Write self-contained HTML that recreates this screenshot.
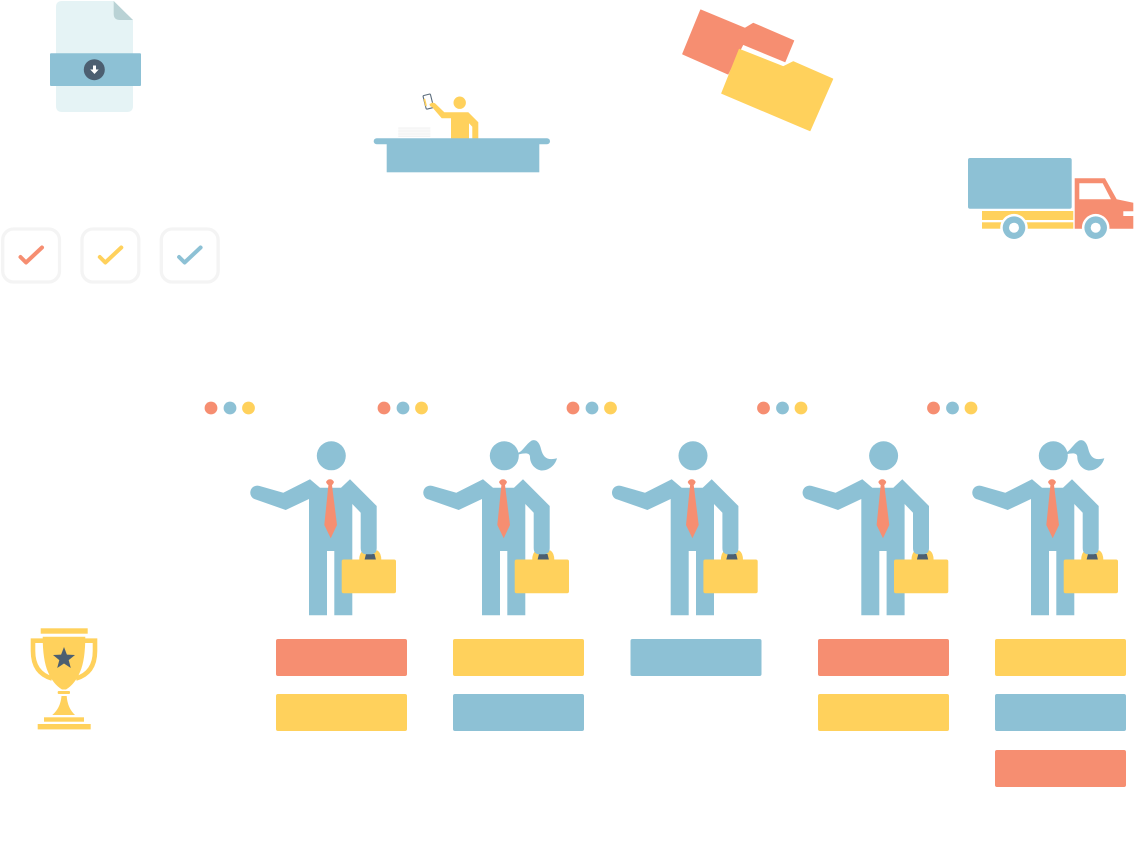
<!DOCTYPE html>
<html>
<head>
<meta charset="utf-8">
<title>Diagram</title>
<style>
html,body{margin:0;padding:0;background:#fff;width:1140px;height:856px;overflow:hidden}
svg{display:block}
</style>
</head>
<body>
<svg width="1140" height="856" viewBox="0 0 1140 856" xmlns="http://www.w3.org/2000/svg">
<defs>
  <g id="man">
    <circle cx="331.3" cy="455.8" r="14.5" fill="#8dc1d5"/>
    <path d="M359.2 560 Q359.2 553 363 550.5 H377.5 Q381.3 553 381.3 560 Z" fill="#ffd15c"/>
    <path d="M366 554 H374.5 L376 560 H364.5 Z" fill="#4c5f71"/>
    <path d="M310 479.3 L320 487.7 H341 L350 479.3 L376.7 506 V548 Q376.7 554.3 370.5 554.3 H366.5 Q360.7 554.3 360.7 548 V512.7 L352.3 504 V615.3 H334.3 V551 H327 V615.3 H309 V499 L285.7 510 L255.4 499.4 A7 7 0 0 1 259.2 485.9 L283.3 492.7 Z" fill="#8dc1d5"/>
    <path d="M330 479.3 Q332.5 479.3 334 482 Q333 484.5 332 485 L337 525 L330.7 538.3 L324.3 525 L328.4 485 Q327 484.5 326 482 Q327.5 479.3 330 479.3 Z" fill="#f68e71"/>
    <rect x="341.7" y="559.5" width="54.3" height="33.8" rx="2" fill="#ffd15c"/>
  </g>
  <path id="tail" d="M518.3 452.7 C523 451 526 444 531.7 440.5 C537 438.5 540 444 541 449 C543 457 547 461 557 458.3 C555 466 548 471 541 470.5 C534 469 530 463 530 457 C530 453 526 452.5 518.5 454.5 Z" fill="#8dc1d5"/>
  <g id="dots">
    <circle cx="211" cy="408" r="6.4" fill="#f68e71"/>
    <circle cx="230" cy="408" r="6.4" fill="#8dc1d5"/>
    <circle cx="248.5" cy="408" r="6.4" fill="#ffd15c"/>
  </g>
  <rect id="cb" x="2.7" y="229" width="56.8" height="53" rx="11" fill="#fff" stroke="#f4f4f4" stroke-width="3.3"/>
</defs>

<!-- document -->
<path d="M62 1 H113.7 L133 20 V106 Q133 112 127 112 H62 Q56 112 56 106 V7 Q56 1 62 1 Z" fill="#e5f3f5"/>
<path d="M113.7 1 L133 20 H120 Q113.7 20 113.7 14 Z" fill="#b9d2d5"/>
<rect x="50" y="53.3" width="91" height="32.7" rx="1" fill="#8dc1d5"/>
<circle cx="94.3" cy="69.7" r="10.5" fill="#4c5f71"/>
<path d="M93 65.5 H96 V69.5 H98.7 L94.5 74 L90.2 69.5 H93 Z" fill="#fff"/>

<!-- checkboxes -->
<use href="#cb"/>
<use href="#cb" x="79.3"/>
<use href="#cb" x="158.6"/>
<path d="M20.5 257 L26 262.5 L42 247.5" fill="none" stroke="#f68e71" stroke-width="4" stroke-linecap="round" stroke-linejoin="round"/>
<path d="M99.8 257 L105.3 262.5 L121.3 247.5" fill="none" stroke="#ffd15c" stroke-width="4" stroke-linecap="round" stroke-linejoin="round"/>
<path d="M179.1 257 L184.6 262.5 L200.6 247.5" fill="none" stroke="#8dc1d5" stroke-width="4" stroke-linecap="round" stroke-linejoin="round"/>

<!-- reception -->
<rect x="398.3" y="127.3" width="32" height="9.5" fill="#f9f9f9"/>
<g stroke="#f3f3f3" stroke-width="1">
  <line x1="398.3" y1="128" x2="430.3" y2="128"/>
  <line x1="398.3" y1="131" x2="430.3" y2="131"/>
  <line x1="398.3" y1="134" x2="430.3" y2="134"/>
  <line x1="398.3" y1="136.5" x2="430.3" y2="136.5"/>
</g>
<circle cx="459.7" cy="102.7" r="6.2" fill="#ffd15c"/>
<rect x="424.5" y="94.6" width="7.6" height="14" rx="1" transform="rotate(-14 428.3 101.6)" fill="#fff" stroke="#5b6c7c" stroke-width="1.1"/>
<path d="M444.3 112.3 H468.3 L478.3 122.3 V139 H472.3 V126.7 L469 123.3 V139 H451 V118.3 H441.7 L432 107 Q429.5 106.5 429.5 104 L432.5 102.5 L435 103.3 Z" fill="#ffd15c"/>
<path d="M424.5 99.5 L426 105.5" stroke="#ffd15c" stroke-width="1.6" stroke-linecap="round" fill="none"/>
<rect x="373.7" y="138.3" width="176.3" height="6" rx="3" fill="#8dc1d5"/>
<rect x="386.7" y="142" width="152.6" height="30.3" fill="#8dc1d5"/>

<!-- folders -->
<path d="M700.7 10 L745 28.3 L753.3 23.3 L793.7 40.7 L785 61.7 L743 44.3 L728 74 L682.7 54 Z" fill="#f68e71" stroke="#f68e71" stroke-width="1" stroke-linejoin="round"/>
<path d="M739.3 49.3 L783.3 66.7 L793.3 61.7 L832.7 79 L810 130.7 L721.7 93.3 Z" fill="#ffd15c" stroke="#ffd15c" stroke-width="1" stroke-linejoin="round"/>

<!-- truck -->
<rect x="968" y="158" width="103.7" height="50.7" rx="2" fill="#8dc1d5"/>
<rect x="982" y="211" width="91.3" height="9" fill="#ffd15c"/>
<rect x="982" y="222.3" width="91.3" height="6.4" fill="#ffd15c"/>
<path d="M1074.7 178.3 H1105 L1116.7 199.3 L1133.3 202.7 V211.3 H1123.3 V216 H1133.3 V228.7 H1074.7 Z" fill="#f68e71"/>
<path d="M1079.3 183.3 H1102.7 L1111 199.3 H1079.3 Z" fill="#fff"/>
<circle cx="1014" cy="227.7" r="13.8" fill="#fff"/>
<circle cx="1014" cy="227.7" r="11.3" fill="#8dc1d5"/>
<circle cx="1014" cy="227.7" r="5" fill="#fff"/>
<circle cx="1095.7" cy="227.7" r="13.8" fill="#fff"/>
<circle cx="1095.7" cy="227.7" r="11.3" fill="#8dc1d5"/>
<circle cx="1095.7" cy="227.7" r="5" fill="#fff"/>

<!-- dots -->
<use href="#dots"/>
<use href="#dots" x="173"/>
<use href="#dots" x="362"/>
<use href="#dots" x="552.5"/>
<use href="#dots" x="722.5"/>

<!-- people -->
<use href="#man"/>
<use href="#man" x="173"/>
<use href="#tail"/>
<use href="#man" x="361.7"/>
<use href="#man" x="552.3"/>
<use href="#man" x="722"/>
<use href="#tail" x="547.3"/>

<!-- trophy -->
<rect x="40.7" y="628.3" width="47" height="5.4" fill="#ffd15c"/>
<path d="M44 640.7 H33 V651 Q33 673 52 678.5" fill="none" stroke="#ffd15c" stroke-width="4.6"/>
<path d="M84 640.7 H95 V651 Q95 673 76 678.5" fill="none" stroke="#ffd15c" stroke-width="4.6"/>
<path d="M42.7 636.7 H85.3 Q85.3 660 80 672 Q75 684 66 689.5 H62 Q53 684 48 672 Q42.7 660 42.7 636.7 Z" fill="#ffd15c"/>
<rect x="57.7" y="691" width="12.3" height="3" rx="1" fill="#ffd15c"/>
<path d="M61.5 696 H66.7 Q67.5 708 75 715 H52.3 Q60.5 708 61.5 696 Z" fill="#ffd15c"/>
<rect x="44" y="717.3" width="40" height="4.4" fill="#ffd15c"/>
<rect x="37.7" y="724" width="53" height="5.4" fill="#ffd15c"/>
<path d="M64 647 L66.9 654.6 L75 655 L68.7 660.1 L70.8 668 L64 663.5 L57.2 668 L59.3 660.1 L53 655 L61.1 654.6 Z" fill="#4c5f71"/>

<!-- bars -->
<rect x="276" y="639" width="131" height="37" rx="2" fill="#f68e71"/>
<rect x="276" y="694" width="131" height="37" rx="2" fill="#ffd15c"/>
<rect x="453" y="639" width="131" height="37" rx="2" fill="#ffd15c"/>
<rect x="453" y="694" width="131" height="37" rx="2" fill="#8dc1d5"/>
<rect x="630.5" y="639" width="131" height="37" rx="2" fill="#8dc1d5"/>
<rect x="818" y="639" width="131" height="37" rx="2" fill="#f68e71"/>
<rect x="818" y="694" width="131" height="37" rx="2" fill="#ffd15c"/>
<rect x="995" y="639" width="131" height="37" rx="2" fill="#ffd15c"/>
<rect x="995" y="694" width="131" height="37" rx="2" fill="#8dc1d5"/>
<rect x="995" y="750" width="131" height="37" rx="2" fill="#f68e71"/>
</svg>
</body>
</html>
